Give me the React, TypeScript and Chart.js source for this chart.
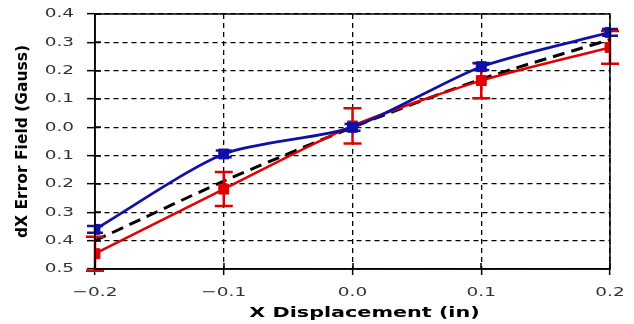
import React, { useEffect, useRef } from "react";
import { Chart, registerables } from "chart.js";

Chart.register(...registerables);

const xPositions = [-0.2, -0.1, 0.0, 0.1, 0.2];
const blueValues = [-0.36, -0.094, 0.0, 0.214, 0.335];
const blueErrors = [0.012, 0.012, 0.012, 0.012, 0.012];
const redValues = [-0.446, -0.218, 0.005, 0.165, 0.282];
const redErrors = [0.06, 0.06, 0.062, 0.062, 0.058];
const blackValues = [-0.4, -0.19, 0.0, 0.17, 0.31];
const xTickValues = [-0.2, -0.1, 0.0, 0.1, 0.2];
const yTickValues = [0.4, 0.3, 0.2, 0.1, 0.0, -0.1, -0.2, -0.3, -0.4, -0.5];
const xTitle = "X Displacement (in)";
const yTitle = "dX Error Field (Gauss)";

const FONT = "'DejaVu Sans', sans-serif";
const BLUE = "#1010a8";
const RED = "#e00000";
const TEXT_STRETCH = 1.42;
const TITLE_STRETCH = 1.48;

const toPoints = (ys: number[]) => xPositions.map((x, i) => ({ x, y: ys[i] }));
const fmtX = (v: number) => (v < -1e-9 ? "\u2212" : "") + Math.abs(v).toFixed(1);

// run fn while every translate() on ctx is followed by a horizontal stretch
function withStretch(ctx: any, sx: number, fn: () => void) {
  const ot = ctx.translate;
  ctx.translate = function (x: number, y: number) {
    ot.call(ctx, x, y);
    ctx.scale(sx, 1);
  };
  try {
    fn();
  } finally {
    delete ctx.translate;
  }
}

const stylePlugin = {
  id: "stylePlugin",
  beforeDraw(chart: any) {
    const ctx = chart.ctx;
    ctx.save();
    ctx.fillStyle = "#ffffff";
    ctx.fillRect(0, 0, chart.width, chart.height);
    ctx.restore();
    ["x", "y"].forEach((id) => {
      const sc = chart.scales[id];
      if (!sc || sc.__patched) return;
      const origLabels = sc.drawLabels;
      sc.drawLabels = function (...a: any[]) {
        withStretch(ctx, TEXT_STRETCH, () => origLabels.apply(this, a));
      };
      if (id === "x") {
        const origTitle = sc.drawTitle;
        sc.drawTitle = function (...a: any[]) {
          ctx.save();
          ctx.translate(12, 0);
          withStretch(ctx, TITLE_STRETCH, () => origTitle.apply(this, a));
          ctx.restore();
        };
      }
      sc.__patched = true;
    });
  },
  afterDatasetDraw(chart: any, args: any) {
    const ds = chart.data.datasets[args.index];
    const errs: number[] | undefined = ds.errors;
    if (!errs) return;
    const ctx = chart.ctx;
    const xs = chart.scales.x;
    const ys = chart.scales.y;
    ctx.save();
    ctx.strokeStyle = ds.borderColor;
    ctx.lineWidth = 2.5;
    ctx.setLineDash([]);
    ds.data.forEach((p: any, i: number) => {
      const x = xs.getPixelForValue(p.x);
      const yTop = ys.getPixelForValue(p.y + errs[i]);
      const yBot = ys.getPixelForValue(p.y - errs[i]);
      const hw = ds.capHalfWidth || 7.5;
      ctx.beginPath();
      ctx.moveTo(x, yTop);
      ctx.lineTo(x, yBot);
      ctx.moveTo(x - hw, yTop);
      ctx.lineTo(x + hw, yTop);
      ctx.moveTo(x - hw, yBot);
      ctx.lineTo(x + hw, yBot);
      ctx.stroke();
    });
    ctx.restore();
  },
  afterDraw(chart: any) {
    const ctx = chart.ctx;
    const { left, right, top, bottom } = chart.chartArea;
    const xs = chart.scales.x;
    const ys = chart.scales.y;
    ctx.save();
    ctx.setLineDash([]);
    ctx.strokeStyle = "#000";
    ctx.lineWidth = 1.5;
    ctx.strokeRect(left, top, right - left, bottom - top);
    ctx.beginPath();
    ys.ticks.forEach((t: any) => {
      const y = Math.round(ys.getPixelForValue(t.value));
      ctx.moveTo(left, y);
      ctx.lineTo(left + 6, y);
    });
    xs.ticks.forEach((t: any) => {
      const x = Math.round(xs.getPixelForValue(t.value));
      ctx.moveTo(x, bottom);
      ctx.lineTo(x, bottom - 6);
    });
    ctx.stroke();
    ctx.restore();
  },
};

export default function App() {
  const ref = useRef<HTMLCanvasElement | null>(null);
  useEffect(() => {
    if (!ref.current) return;
    const chart = new Chart(ref.current, {
      type: "line",
      data: {
        datasets: [
          {
            label: "Blue",
            data: toPoints(blueValues),
            errors: blueErrors,
            capHalfWidth: 8,
            borderColor: BLUE,
            backgroundColor: BLUE,
            borderWidth: 2.8,
            pointStyle: "rect",
            pointRadius: 7,
            pointBorderWidth: 1,
            pointBackgroundColor: BLUE,
            pointBorderColor: BLUE,
            tension: 0.25,
            order: 0,
          } as any,
          {
            label: "Red",
            data: toPoints(redValues),
            errors: redErrors,
            capHalfWidth: 9,
            borderColor: RED,
            backgroundColor: RED,
            borderWidth: 2.5,
            pointStyle: "rect",
            pointRadius: 7,
            pointBorderWidth: 1,
            pointBackgroundColor: RED,
            pointBorderColor: RED,
            tension: 0.25,
            order: 1,
          } as any,
          {
            label: "Black",
            data: toPoints(blackValues),
            borderColor: "#000",
            borderWidth: 3,
            borderDash: [12, 7],
            pointRadius: 0,
            tension: 0.25,
            order: 2,
          } as any,
        ],
      },
      options: {
        animation: false,
        responsive: false,
        devicePixelRatio: 1,
        layout: { padding: { top: 14, right: 24, bottom: 0, left: 0 } },
        plugins: { legend: { display: false }, tooltip: { enabled: false } },
        scales: {
          x: {
            type: "linear",
            min: -0.2,
            max: 0.2,
            afterBuildTicks: (axis: any) => {
              axis.ticks = xTickValues.map((v) => ({ value: v }));
            },
            afterFit: (scale: any) => {
              scale.height = 55;
              scale.paddingLeft = 0;
              scale.paddingRight = 0;
            },
            ticks: {
              autoSkip: false,
              maxRotation: 0,
              padding: 10,
              color: "#333",
              font: { family: FONT, size: 13 },
              callback: (v: any) => fmtX(Number(v)),
            },
            grid: {
              color: "#000",
              lineWidth: 1.3,
              tickLength: 6,
              tickColor: "#000",
              tickWidth: 1.5,
              tickBorderDash: [],
            },
            border: { display: true, color: "#000", width: 1.5, dash: [5, 4] },
            title: {
              display: true,
              text: xTitle,
              color: "#000",
              font: { family: FONT, size: 14, weight: "bold" },
              padding: { top: 0, bottom: 2 },
            },
          },
          y: {
            type: "linear",
            min: -0.5,
            max: 0.4,
            afterBuildTicks: (axis: any) => {
              axis.ticks = yTickValues.map((v) => ({ value: v }));
            },
            afterFit: (scale: any) => {
              scale.width = 95;
              scale.paddingTop = 0;
              scale.paddingBottom = 0;
            },
            ticks: {
              autoSkip: false,
              padding: 13,
              color: "#333",
              font: { family: FONT, size: 13 },
              callback: (v: any) => Math.abs(Number(v)).toFixed(1),
            },
            grid: {
              color: "#000",
              lineWidth: 1.3,
              tickLength: 8,
              tickColor: "#000",
              tickWidth: 1.5,
              tickBorderDash: [],
            },
            border: { display: true, color: "#000", width: 1.5, dash: [5, 4] },
            title: {
              display: true,
              text: yTitle,
              color: "#000",
              font: { family: FONT, size: 15.5, weight: "bold" },
              padding: { top: 14, bottom: 0 },
            },
          },
        },
      } as any,
      plugins: [stylePlugin],
    });
    return () => chart.destroy();
  }, []);
  return (
    <div style={{ position: "fixed", left: 0, top: 0, width: 634, height: 324, background: "#fff" }}>
      <canvas ref={ref} width={634} height={324} style={{ display: "block", width: 634, height: 324 }} />
    </div>
  );
}
